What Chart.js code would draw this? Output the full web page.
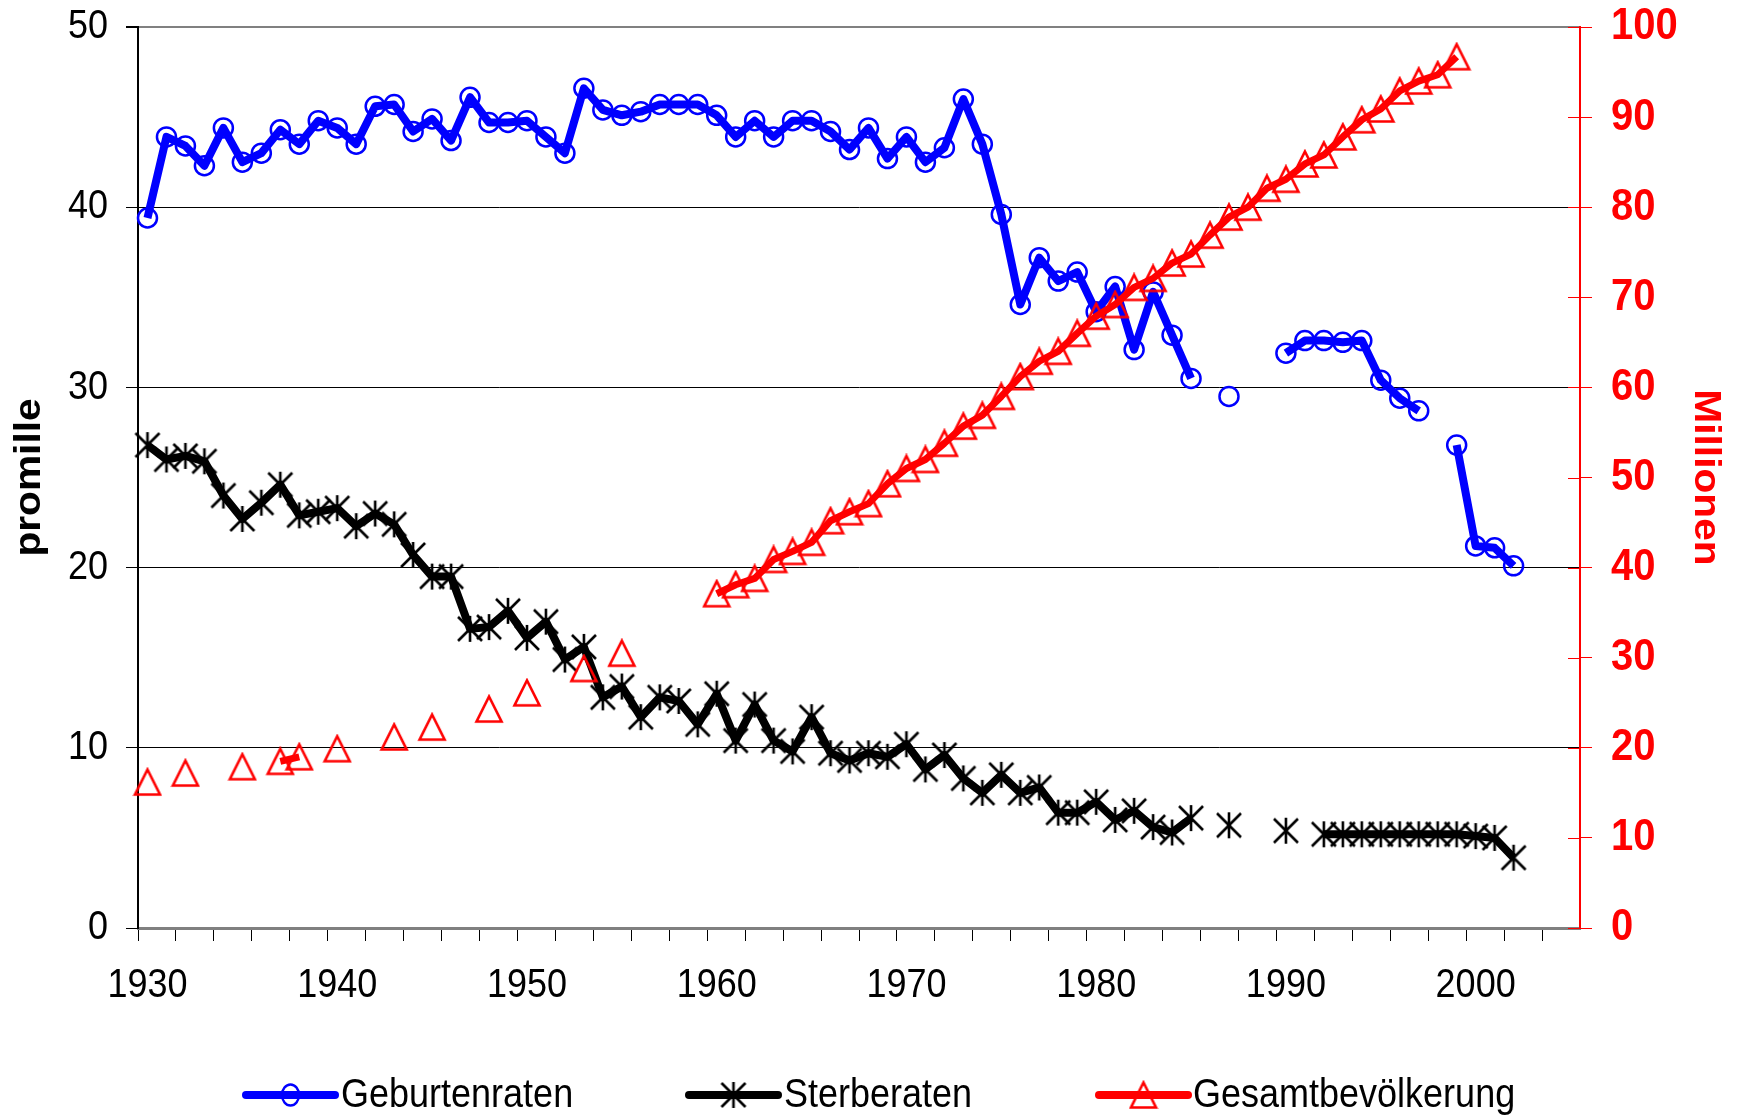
<!DOCTYPE html>
<html>
<head>
<meta charset="utf-8">
<script src="https://cdn.jsdelivr.net/npm/chart.js@4.4.1/dist/chart.umd.min.js"></script>
<style>
html,body{margin:0;padding:0;background:#ffffff;overflow:hidden;}
canvas{display:block;}
</style>
</head>
<body>
<canvas id="c" width="1737" height="1115"></canvas>
<script>
const years = [1930,1931,1932,1933,1934,1935,1936,1937,1938,1939,
  1940,1941,1942,1943,1944,1945,1946,1947,1948,1949,
  1950,1951,1952,1953,1954,1955,1956,1957,1958,1959,
  1960,1961,1962,1963,1964,1965,1966,1967,1968,1969,
  1970,1971,1972,1973,1974,1975,1976,1977,1978,1979,
  1980,1981,1982,1983,1984,1985,1986,1987,1988,1989,
  1990,1991,1992,1993,1994,1995,1996,1997,1998,1999,
  2000,2001,2002,2003,2004,2005];

const geburtenraten = [39.4,43.9,43.4,42.3,44.4,42.5,43.0,44.3,43.5,44.8,
  44.4,43.5,45.6,45.7,44.2,44.9,43.7,46.1,44.7,44.7,
  44.8,43.9,43.0,46.6,45.4,45.1,45.3,45.7,45.7,45.7,
  45.1,43.9,44.8,43.9,44.8,44.8,44.2,43.2,44.4,42.7,
  43.9,42.5,43.3,46.0,43.5,39.6,34.6,37.2,35.9,36.4,
  34.2,35.6,32.1,35.3,32.9,30.5,null,29.5,null,null,
  31.9,32.6,32.6,32.5,32.6,30.4,29.4,28.7,null,26.8,
  21.2,21.1,20.1,null,null,null];

const sterberaten = [26.8,26.0,26.2,25.9,24.0,22.7,23.6,24.6,22.9,23.1,
  23.3,22.3,23.0,22.4,20.7,19.5,19.5,16.6,16.7,17.6,
  16.1,17.0,14.9,15.6,12.8,13.4,11.7,12.8,12.6,11.3,
  13.0,10.4,12.4,10.4,9.8,11.7,9.7,9.3,9.7,9.5,
  10.2,8.8,9.6,8.3,7.5,8.5,7.5,7.8,6.4,6.4,
  7.0,6.0,6.5,5.6,5.3,6.1,null,5.7,null,null,
  5.4,null,5.2,5.2,5.2,5.2,5.2,5.2,5.2,5.2,
  5.1,5.0,3.9,null,null,null];

const gesamtbevoelkerung = [16.2,null,17.2,null,null,17.9,null,18.5,19.0,null,
  19.9,null,null,21.2,null,22.3,null,null,24.3,null,
  26.1,null,null,28.8,null,30.5,null,null,null,null,
  37.1,38.1,38.8,40.9,41.8,42.8,45.2,46.2,47.1,49.3,
  51.0,52.0,53.8,55.7,56.9,59.0,61.2,62.9,64.0,66.0,
  67.9,69.2,71.1,72.1,73.8,74.8,76.9,78.9,80.0,82.1,
  83.1,84.8,85.8,87.8,89.7,90.9,92.9,94.0,94.7,96.7,
  null,null,null,null,null,null];

const xTickLabels = [1930,1940,1950,1960,1970,1980,1990,2000];
const leftTicks = [0,10,20,30,40,50];
const rightTicks = [0,10,20,30,40,50,60,70,80,90,100];
const seriesNames = ['Geburtenraten','Sterberaten','Gesamtbevölkerung'];
const leftTitle = 'promille';
const rightTitle = 'Millionen';

const FONT = '"Liberation Sans", Arial, sans-serif';
const BLUE = '#0000ff', BLACK = '#000000', RED = '#ff0000';

// the reference's lettering is slightly taller than wide: stretch text glyphs vertically
const STRETCH = 1.13;
const origFillText = CanvasRenderingContext2D.prototype.fillText;
CanvasRenderingContext2D.prototype.fillText = function (text, x, y, maxWidth) {
  const m = this.getTransform();
  this.save();
  this.translate(x, y);
  if (Math.abs(m.b) > 0.5) this.scale(STRETCH, 1); else this.scale(1, STRETCH);
  if (maxWidth === undefined) origFillText.call(this, text, 0, 0);
  else origFillText.call(this, text, 0, 0, maxWidth);
  this.restore();
};

function makeAsterisk() {
  const c = document.createElement('canvas');
  c.width = 28; c.height = 28;
  const g = c.getContext('2d');
  g.strokeStyle = BLACK; g.lineWidth = 2.6; g.lineCap = 'butt';
  g.beginPath();
  g.moveTo(2, 2); g.lineTo(26, 26);
  g.moveTo(26, 2); g.lineTo(2, 26);
  g.moveTo(14, 1); g.lineTo(14, 27);
  g.stroke();
  return c;
}
function makeTriangle() {
  const c = document.createElement('canvas');
  c.width = 30; c.height = 30;
  const g = c.getContext('2d');
  g.strokeStyle = RED; g.lineWidth = 2.6; g.lineJoin = 'miter';
  g.beginPath();
  g.moveTo(15, 2.5); g.lineTo(27.5, 27.5); g.lineTo(2.5, 27.5); g.closePath();
  g.stroke();
  return c;
}
const asteriskImg = makeAsterisk();
const triangleImg = makeTriangle();

const extrasPlugin = {
  id: 'extras',
  afterDraw(chart) {
    const ctx = chart.ctx;
    const y1 = chart.scales.y1;
    const area = chart.chartArea;
    ctx.save();
    ctx.strokeStyle = RED; ctx.lineWidth = 1;
    rightTicks.forEach(v => {
      const yy = Math.round(y1.getPixelForValue(v)) + 0.5;
      ctx.beginPath(); ctx.moveTo(area.right - 12, yy); ctx.lineTo(area.right, yy); ctx.stroke();
    });
    const items = [
      {name: seriesNames[0], color: BLUE, x0: 246, x1: 335, tx: 341, mark: 'circle'},
      {name: seriesNames[1], color: BLACK, x0: 689, x1: 778, tx: 784, mark: asteriskImg},
      {name: seriesNames[2], color: RED, x0: 1099, x1: 1188, tx: 1193, mark: triangleImg}
    ];
    const ly = 1095;
    items.forEach(it => {
      ctx.strokeStyle = it.color; ctx.lineWidth = 8; ctx.lineCap = 'round';
      ctx.beginPath(); ctx.moveTo(it.x0, ly); ctx.lineTo(it.x1, ly); ctx.stroke();
      const cx = (it.x0 + it.x1) / 2;
      if (it.mark === 'circle') {
        ctx.lineWidth = 2.5; ctx.strokeStyle = BLUE;
        ctx.beginPath(); ctx.ellipse(cx, ly, 8.5, 10.5, 0, 0, Math.PI * 2); ctx.stroke();
      } else {
        ctx.drawImage(it.mark, cx - it.mark.width / 2, ly - it.mark.height / 2);
      }
      ctx.fillStyle = '#000'; ctx.font = '36px ' + FONT;
      ctx.textAlign = 'left'; ctx.textBaseline = 'middle';
      ctx.fillText(it.name, it.tx, ly + 1);
    });
    ctx.restore();
  }
};

const common = {spanGaps: false, tension: 0, borderJoinStyle: 'round', borderCapStyle: 'butt', pointHoverRadius: 0};

function noPad(s) { s.paddingTop = 0; s.paddingBottom = 0; s.paddingLeft = 0; s.paddingRight = 0; }

new Chart(document.getElementById('c').getContext('2d'), {
  type: 'line',
  data: {
    labels: years,
    datasets: [
      Object.assign({}, common, {
        label: seriesNames[0], data: geburtenraten, yAxisID: 'y', order: 2,
        borderColor: BLUE, borderWidth: 8,
        pointStyle: 'circle', pointRadius: 9.5, pointBorderWidth: 2.5,
        pointBorderColor: BLUE, pointBackgroundColor: 'rgba(0,0,0,0)'
      }),
      Object.assign({}, common, {
        label: seriesNames[1], data: sterberaten, yAxisID: 'y', order: 1,
        borderColor: BLACK, borderWidth: 8,
        pointStyle: asteriskImg, pointRadius: 12, pointBorderWidth: 0,
        pointBackgroundColor: BLACK, pointBorderColor: BLACK
      }),
      Object.assign({}, common, {
        label: seriesNames[2], data: gesamtbevoelkerung, yAxisID: 'y1', order: 0,
        borderColor: RED, borderWidth: 7,
        pointStyle: triangleImg, pointRadius: 12, pointBorderWidth: 0,
        pointBackgroundColor: RED, pointBorderColor: RED
      })
    ]
  },
  options: {
    responsive: false,
    animation: false,
    devicePixelRatio: 1,
    layout: {padding: {top: 27, left: 0, right: 0, bottom: 0}},
    plugins: {legend: {display: false}, tooltip: {enabled: false}},
    events: [],
    scales: {
      x: {
        type: 'category',
        offset: true,
        grid: {
          offset: true, drawOnChartArea: false, drawTicks: true, tickLength: 13,
          color: c => (typeof c.index === 'number' && c.index % 2 === 0) ? '#000' : 'rgba(0,0,0,0)',
          lineWidth: 1
        },
        border: {color: '#808080', width: 3},
        ticks: {
          autoSkip: false, maxRotation: 0, minRotation: 0, padding: 23,
          color: '#000', font: {family: FONT, size: 36},
          callback: (v, i) => xTickLabels.includes(years[i]) ? String(years[i]) : ''
        },
        afterFit: s => { s.height = 187; noPad(s); }
      },
      y: {
        position: 'left', min: 0, max: 50,
        afterBuildTicks: s => { s.ticks = leftTicks.map(v => ({value: v})); },
        ticks: {padding: 18, color: '#000', font: {family: FONT, size: 36}},
        grid: {
          color: c => (c.tick && c.tick.value === 50) ? '#808080' : '#000',
          lineWidth: c => (c.tick && c.tick.value === 50) ? 2 : 1,
          tickLength: 12, tickColor: '#000'
        },
        border: {color: '#000', width: 2},
        title: {display: true, text: leftTitle, color: '#000', font: {family: FONT, size: 36, weight: 'bold'}, padding: {top: 8, bottom: 0}},
        afterFit: s => { s.width = 138; noPad(s); }
      },
      y1: {
        position: 'right', min: 0, max: 100,
        afterBuildTicks: s => { s.ticks = rightTicks.map(v => ({value: v})); },
        ticks: {padding: 19, color: RED, font: {family: FONT, size: 40, weight: 'bold'}},
        grid: {drawOnChartArea: false, tickLength: 12, color: RED, lineWidth: 1},
        border: {color: RED, width: 2},
        title: {display: true, text: rightTitle, color: RED, font: {family: FONT, size: 36, weight: 'bold'}, padding: {top: 10, bottom: 0}},
        afterFit: s => { s.width = 157; noPad(s); }
      }
    }
  },
  plugins: [extrasPlugin]
});
</script>
</body>
</html>
